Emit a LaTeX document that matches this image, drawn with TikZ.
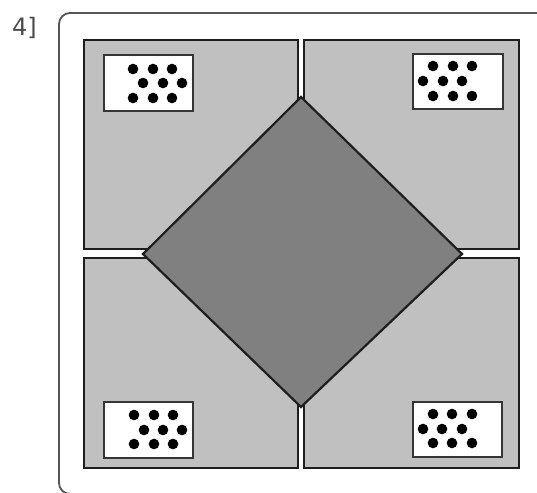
\documentclass[tikz,border=0pt]{standalone}
\usepackage{fontspec}
\setmainfont{DejaVu Sans}
\definecolor{panelgray}{HTML}{C0C0C0}
\definecolor{diamgray}{HTML}{808080}
\definecolor{inkdark}{HTML}{1E1E1E}
\definecolor{framegray}{HTML}{555555}
\tikzset{
  panel/.style={draw=inkdark, fill=panelgray, line width=2.2pt},
  diam/.style={draw=inkdark, fill=diamgray, line width=2.2pt, line join=miter},
  dotbox/.style={draw=inkdark!90, fill=white, line width=1.8pt},
  dotmark/.style={fill=black},
  outerframe/.style={draw=framegray, line width=1.8pt, rounded corners=11pt},
}
\begin{document}
\begin{tikzpicture}[x=1pt,y=-1pt]
\useasboundingbox (0,0) rectangle (537,492);
\fill[white] (0,0) rectangle (537,492);
\begin{scope}
  \clip (0,0) rectangle (537,492);
  \draw[outerframe] (59,13) rectangle (640,494);
\end{scope}
\node[anchor=base west, text=inkdark!80, font=\fontsize{24}{24}\selectfont, inner sep=0pt] (lbl) at (12,36) {4]};
% panels
\draw[panel] (84,40) rectangle (298,249);
\draw[panel] (304,40) rectangle (519,249);
\draw[panel] (84,258) rectangle (298,468);
\draw[panel] (304,258) rectangle (519,468);
% diamond
\draw[diam] (143,254) -- (301,97) -- (462,254) -- (301,407) -- cycle;
% dot boxes
\draw[dotbox] (104,55) rectangle (193,111);
\draw[dotbox] (413,54) rectangle (503,109);
\draw[dotbox] (104,402) rectangle (193,458);
\draw[dotbox] (413,402) rectangle (502,457);
\foreach \x in {133,153,172} {\fill[dotmark] (\x,69) circle (5.3); \fill[dotmark] (\x,98) circle (5.3);}
\foreach \x in {143,163,182} {\fill[dotmark] (\x,83) circle (5.3);}
\foreach \x in {433,453,472} {\fill[dotmark] (\x,66) circle (5.3); \fill[dotmark] (\x,96) circle (5.3);}
\foreach \x in {423,443,462} {\fill[dotmark] (\x,81) circle (5.3);}
\foreach \x in {134,154,173} {\fill[dotmark] (\x,415) circle (5.3); \fill[dotmark] (\x,444) circle (5.3);}
\foreach \x in {144,163,182} {\fill[dotmark] (\x,430) circle (5.3);}
\foreach \x in {433,452,472} {\fill[dotmark] (\x,414) circle (5.3); \fill[dotmark] (\x,443) circle (5.3);}
\foreach \x in {423,442,462} {\fill[dotmark] (\x,429) circle (5.3);}
\end{tikzpicture}
\end{document}
